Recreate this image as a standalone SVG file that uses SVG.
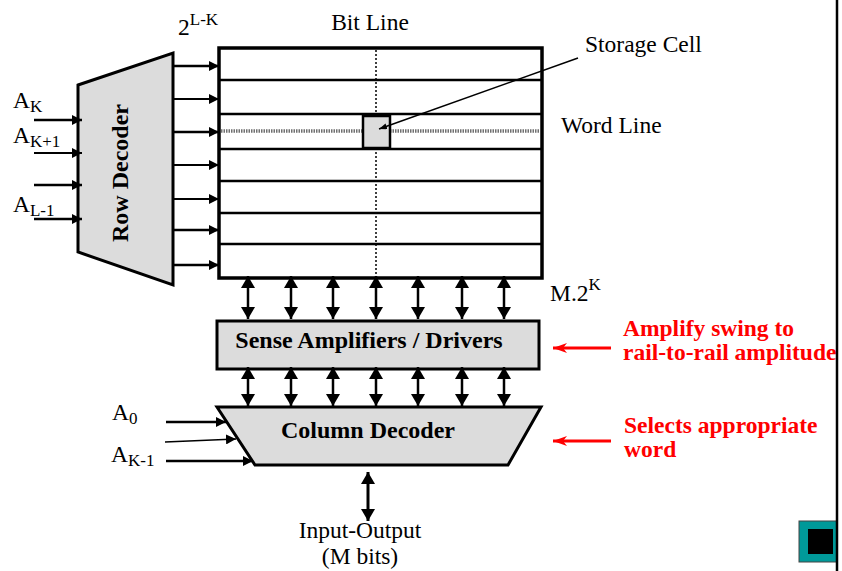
<svg xmlns="http://www.w3.org/2000/svg" width="842" height="571" viewBox="0 0 842 571">
<style>
.t{font-family:"Liberation Serif","Times New Roman",serif;fill:#000;font-size:23.5px}
.s{font-size:17px}
.b{font-family:"Liberation Serif","Times New Roman",serif;font-weight:bold;fill:#000;font-size:24px}
.r{font-family:"Liberation Serif","Times New Roman",serif;font-weight:bold;fill:#ff0000;font-size:23.5px}
.blk{fill:#dcdcdc;stroke:#000;stroke-width:3}
.ln{stroke:#000;stroke-width:2.5;fill:none}
.row{stroke:#000;stroke-width:2.5}
</style>
<defs>
<marker id="ah" viewBox="0 0 12 14" refX="12" refY="7" markerWidth="12" markerHeight="14" markerUnits="userSpaceOnUse" orient="auto-start-reverse">
<path d="M0,0 L12,7 L0,14 z" fill="#000"/>
</marker>
<marker id="as" viewBox="0 0 10 10" refX="10" refY="5" markerWidth="10" markerHeight="10" markerUnits="userSpaceOnUse" orient="auto">
<path d="M0,0 L10,5 L0,10 z" fill="#000"/>
</marker>
<marker id="at" viewBox="0 0 8 6" refX="8" refY="3" markerWidth="8" markerHeight="6" markerUnits="userSpaceOnUse" orient="auto">
<path d="M0,0 L8,3 L0,6 z" fill="#000"/>
</marker>
<marker id="ar" viewBox="0 0 14 10" refX="14" refY="5" markerWidth="14" markerHeight="10" markerUnits="userSpaceOnUse" orient="auto">
<path d="M0,0 L14,5 L0,10 L4,5 z" fill="#ff0000"/>
</marker>
</defs>

<g id="row-decoder">
<polygon class="blk" points="78,85 173,53 173,285 78,252"/>
<text class="b" font-size="23" transform="translate(128,173) rotate(-90)" text-anchor="middle" x="0" y="0">Row Decoder</text>
</g>

<g id="memory-array">
<rect x="219" y="48" width="323" height="230" fill="#fff" stroke="#000" stroke-width="3.5"/>
<line class="row" x1="220" y1="80" x2="541" y2="80"/>
<line class="row" x1="220" y1="114" x2="541" y2="114"/>
<line class="row" x1="220" y1="149" x2="541" y2="149"/>
<line class="row" x1="220" y1="181" x2="541" y2="181"/>
<line class="row" x1="220" y1="213" x2="541" y2="213"/>
<line class="row" x1="220" y1="244" x2="541" y2="244"/>
<line x1="221" y1="131" x2="362" y2="131" stroke="#707070" stroke-width="3.5" stroke-dasharray="1.5,1"/>
<line x1="390" y1="131" x2="540" y2="131" stroke="#707070" stroke-width="3.5" stroke-dasharray="1.5,1"/>
<line x1="376" y1="50" x2="376" y2="116" stroke="#000" stroke-width="1.5" stroke-dasharray="2,2"/>
<line x1="376" y1="148" x2="376" y2="276" stroke="#000" stroke-width="1.5" stroke-dasharray="2,2"/>
</g>

<g id="storage-cell">
<rect x="363" y="116" width="27" height="32" fill="#dcdcdc" stroke="#000" stroke-width="2.5"/>
</g>

<g id="sense-amplifiers">
<rect class="blk" x="217" y="321" width="322" height="48"/>
<text class="b" x="369" y="348" text-anchor="middle">Sense Amplifiers / Drivers</text>
</g>

<g id="column-decoder">
<polygon class="blk" points="217,407 541,407 508,465 255,465"/>
<text class="b" x="368" y="438" text-anchor="middle">Column Decoder</text>
</g>

<g id="labels">
<text class="t" x="178" y="35">2<tspan class="s" dy="-10">L-K</tspan></text>
<text class="t" x="370" y="30" text-anchor="middle">Bit Line</text>
<text class="t" x="585" y="52">Storage Cell</text>
<text class="t" x="561" y="133">Word Line</text>
<text class="t" x="550" y="301">M.2<tspan class="s" dy="-11">K</tspan></text>
<text class="t" x="13" y="108">A<tspan class="s" dy="4">K</tspan></text>
<text class="t" x="13" y="143">A<tspan class="s" dy="4">K+1</tspan></text>
<text class="t" x="13" y="212">A<tspan class="s" dy="4">L-1</tspan></text>
<text class="t" x="112" y="420">A<tspan class="s" dy="4">0</tspan></text>
<text class="t" x="111" y="462">A<tspan class="s" dy="4">K-1</tspan></text>
<text class="t" x="360" y="538" text-anchor="middle">Input-Output</text>
<text class="t" x="360" y="564" text-anchor="middle">(M bits)</text>
<text class="r" x="623" y="336">Amplify swing to</text>
<text class="r" x="623" y="360">rail-to-rail amplitude</text>
<text class="r" x="624" y="433">Selects appropriate</text>
<text class="r" x="624" y="457">word</text>
</g>

<g id="connectors">
<line class="ln" x1="34" y1="120" x2="82" y2="120" marker-end="url(#as)"/>
<line x1="34" y1="153" x2="82" y2="153" stroke="#000" stroke-width="2" marker-end="url(#as)"/>
<line class="ln" x1="34" y1="185" x2="82" y2="185" marker-end="url(#as)"/>
<line class="ln" x1="34" y1="219" x2="82" y2="219" marker-end="url(#as)"/>

<line class="ln" x1="174" y1="66" x2="219" y2="66" marker-end="url(#as)"/>
<line x1="174" y1="99" x2="219" y2="99" stroke="#000" stroke-width="2" marker-end="url(#as)"/>
<line class="ln" x1="174" y1="132" x2="219" y2="132" marker-end="url(#as)"/>
<line x1="174" y1="165" x2="219" y2="165" stroke="#000" stroke-width="2" marker-end="url(#as)"/>
<line x1="174" y1="199" x2="219" y2="199" stroke="#000" stroke-width="2" marker-end="url(#as)"/>
<line class="ln" x1="174" y1="230" x2="219" y2="230" marker-end="url(#as)"/>
<line class="ln" x1="174" y1="265" x2="219" y2="265" marker-end="url(#as)"/>

<line x1="578" y1="58" x2="379" y2="129" stroke="#000" stroke-width="1.5" marker-end="url(#at)"/>

<g class="ln" marker-start="url(#ah)" marker-end="url(#ah)">
<line x1="248" y1="276" x2="248" y2="319"/>
<line x1="291" y1="276" x2="291" y2="319"/>
<line x1="333" y1="276" x2="333" y2="319"/>
<line x1="376" y1="276" x2="376" y2="319"/>
<line x1="418" y1="276" x2="418" y2="319"/>
<line x1="462" y1="276" x2="462" y2="319"/>
<line x1="504" y1="276" x2="504" y2="319"/>
<line x1="248" y1="367" x2="248" y2="406"/>
<line x1="291" y1="367" x2="291" y2="406"/>
<line x1="333" y1="367" x2="333" y2="406"/>
<line x1="376" y1="367" x2="376" y2="406"/>
<line x1="418" y1="367" x2="418" y2="406"/>
<line x1="462" y1="367" x2="462" y2="406"/>
<line x1="504" y1="367" x2="504" y2="406"/>
</g>

<line class="ln" x1="166" y1="422" x2="226" y2="422" marker-end="url(#as)"/>
<line x1="165" y1="442" x2="236" y2="439" stroke="#000" stroke-width="1.5" marker-end="url(#as)"/>
<line class="ln" x1="166" y1="461" x2="253" y2="461" marker-end="url(#as)"/>

<line x1="368" y1="472" x2="368" y2="521" stroke="#000" stroke-width="3" marker-start="url(#ah)" marker-end="url(#ah)"/>

<line x1="611" y1="348" x2="553" y2="348" stroke="#ff0000" stroke-width="3" marker-end="url(#ar)"/>
<line x1="611" y1="441" x2="553" y2="441" stroke="#ff0000" stroke-width="3" marker-end="url(#ar)"/>
</g>

<g id="nav-button">
<rect x="799" y="521" width="38" height="41" fill="#009999" stroke="#444" stroke-width="1"/>
<rect x="808" y="529" width="25" height="25" fill="#000"/>
</g>
<line x1="837" y1="0" x2="837" y2="571" stroke="#000" stroke-width="2.5"/>
</svg>
